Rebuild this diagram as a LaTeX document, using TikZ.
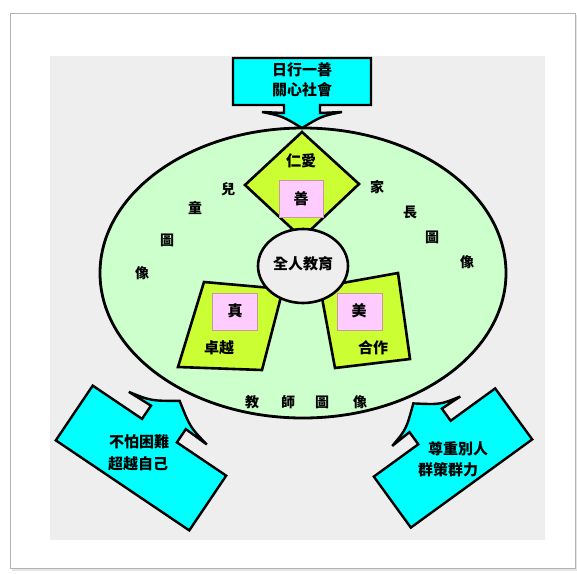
\documentclass[tikz,border=0pt]{standalone}
\usepackage{fontspec}
\newfontfamily\cjk{Noto Sans CJK TC}
\definecolor{panelgrey}{HTML}{EEEEEE}
\definecolor{ellgreen}{HTML}{CCFFCC}
\definecolor{lime}{HTML}{CCFF33}
\definecolor{pinkbox}{HTML}{FFCCFF}
\definecolor{pinkedge}{HTML}{CC9999}
\definecolor{cyanbox}{HTML}{00FFFF}
\newcommand\carrow[6]{% L H s a w h
  \draw[arrowbox] ({-#1/2},{#2/2}) -- ({-#1/2},{-#2/2}) -- ({-#3/2},{-#2/2}) -- ({-#3/2},{-#2/2-#4}) -- ({-#5/2},{-#2/2-#4+1})
  .. controls ({-#5/4},{-#2/2-#4-#6*0.2}) .. (0,{-#2/2-#4-#6})
  .. controls ({#5/4},{-#2/2-#4-#6*0.2}) .. ({#5/2},{-#2/2-#4+1}) -- ({#3/2},{-#2/2-#4}) -- ({#3/2},{-#2/2}) -- ({#1/2},{-#2/2}) -- ({#1/2},{#2/2}) -- cycle;}
\tikzset{
  arrowbox/.style={fill=cyanbox, draw=black, line width=2.4pt, line join=miter},
  limeshape/.style={fill=lime, draw=black, line width=2.6pt, line join=miter},
  pinkbx/.style={fill=pinkbox, draw=pinkedge, line width=1pt},
  lbl/.style={font=\cjk\bfseries\fontsize{15}{18}\selectfont, inner sep=0pt},
  arclbl/.style={font=\cjk\bfseries\fontsize{14}{16}\selectfont, inner sep=0pt},
}
\begin{document}
\begin{tikzpicture}[x=1pt,y=-1pt]
\useasboundingbox (0,0) rectangle (577,573);
\fill[white] (0,0) rectangle (577,573);
\fill[black!10] (12,15) rectangle (577,571);
\filldraw[fill=white, draw=black!30, line width=1pt] (10,13) rectangle (575,568);
\fill[panelgrey] (50,56) rectangle (545,540);

% main ellipse
\draw[fill=ellgreen, line width=2.8pt] (303,273) ellipse [x radius=203pt, y radius=145pt];

% diamond
\draw[limeshape] (302,132) -- (359,184) -- (302,238) -- (245,185) -- cycle;
\draw[pinkbx] (279,180) rectangle (323,217);
\node[lbl] (renai) at (301,161) {仁愛};
\node[lbl] (shan) at (301,199) {善};

% parallelograms
\draw[limeshape] (204,282) -- (283,289) -- (262,370) -- (178,367) -- cycle;
\draw[pinkbx] (212,293) rectangle (257,330);
\node[lbl] (zhen) at (235,311) {真};
\node[lbl] (zhuoyue) at (219,348) {卓越};

\draw[limeshape] (320,287) -- (398,273) -- (410,359) -- (335,368) -- cycle;
\draw[pinkbx] (337,293) rectangle (382,330);
\node[lbl] (mei) at (359,311) {美};
\node[lbl] (hezuo) at (373,348) {合作};

% centre circle
\draw[fill=panelgrey, line width=2.6pt] (303,266) ellipse [x radius=45pt, y radius=37pt];
\node[lbl] (quanren) at (303,264) {全人教育};

% arc labels
\node[arclbl] (c1) at (228,189) {兒};
\node[arclbl] (c2) at (195,208) {童};
\node[arclbl] (c3) at (167,240) {圖};
\node[arclbl] (c4) at (142,273) {像};
\node[arclbl] (p1) at (377,187) {家};
\node[arclbl] (p2) at (410,212) {長};
\node[arclbl] (p3) at (432,237) {圖};
\node[arclbl] (p4) at (467,262) {像};
\node[arclbl] (t1) at (252,402) {教};
\node[arclbl] (t2) at (288,402) {師};
\node[arclbl] (t3) at (322,402) {圖};
\node[arclbl] (t4) at (360,402) {像};

% callout arrows
\begin{scope}[shift={(302,81.5)}, rotate=180]
  \carrow{138}{47}{36}{8}{80}{15}
\end{scope}
\node[lbl] (top1) at (302,70) {日行一善};
\node[lbl] (top2) at (302,90) {關心社會};

\begin{scope}[shift={(141,458)}, rotate=-34]
  \carrow{161}{66}{42}{16}{94}{20}
\end{scope}
\node[lbl] (l1) at (139,442) {不怕困難};
\node[lbl] (l2) at (138,464) {超越自己};

\begin{scope}[shift={(453,458)}, rotate=36]
  \carrow{150}{63}{40}{15}{84}{21}
\end{scope}
\node[lbl] (r1) at (458,449) {尊重別人};
\node[lbl] (r2) at (448,470) {群策群力};
\end{tikzpicture}
\end{document}
